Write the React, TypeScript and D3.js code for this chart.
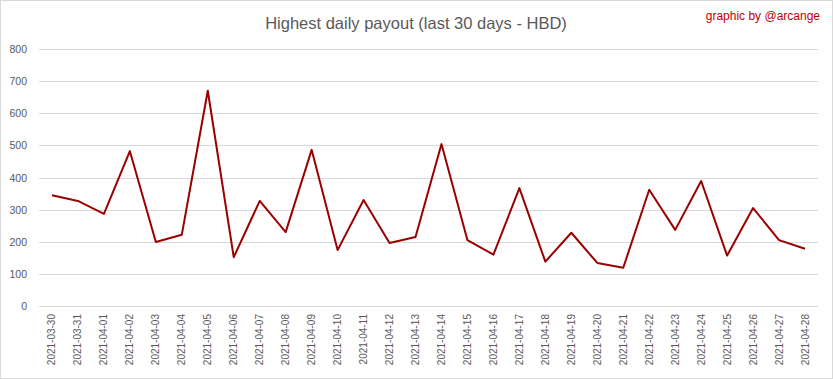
import React from "react";
import * as d3 from "d3";

const dates = [
  "2021-03-30","2021-03-31","2021-04-01","2021-04-02","2021-04-03","2021-04-04","2021-04-05","2021-04-06",
  "2021-04-07","2021-04-08","2021-04-09","2021-04-10","2021-04-11","2021-04-12","2021-04-13","2021-04-14",
  "2021-04-15","2021-04-16","2021-04-17","2021-04-18","2021-04-19","2021-04-20","2021-04-21","2021-04-22",
  "2021-04-23","2021-04-24","2021-04-25","2021-04-26","2021-04-27","2021-04-28",
];
const payouts = [
  345, 327, 287, 482, 199, 222, 670, 152, 327, 230, 486, 174, 330, 196, 215,
  504, 205, 160, 367, 138, 228, 134, 119, 362, 237, 389, 157, 305, 205, 178,
];
const yTicks = [0, 100, 200, 300, 400, 500, 600, 700, 800];
const title = "Highest daily payout (last 30 days - HBD)";
const credit = "graphic by @arcange";

const W = 833;
const H = 379;
const left = 39;
const right = 818;
const top = 49;
const bottom = 306;

export default function App() {
  const x = d3.scaleBand<string>().domain(dates).range([left, right]);
  const y = d3.scaleLinear().domain([0, 800]).range([bottom, top]);
  const line = d3
    .line<number>()
    .x((_, i) => (x(dates[i]) as number) + x.bandwidth() / 2)
    .y((d) => y(d));
  const font = "'Liberation Sans', Arial, sans-serif";
  return (
    <svg
      width={W}
      height={H}
      style={{ position: "absolute", left: 0, top: 0, display: "block" }}
      fontFamily={font}
    >
      <rect x={0.5} y={0.5} width={W - 1} height={H - 1} fill="#fff" stroke="#d9d9d9" />
      <text x={416} y={29} textAnchor="middle" fontSize={16.5} fill="#595959">
        {title}
      </text>
      <text x={820} y={20} textAnchor="end" fontSize={12} fill="#c00000">
        {credit}
      </text>
      {yTicks.map((t) => (
        <g key={t}>
          <line x1={left} x2={right} y1={Math.round(y(t)) + 0.5} y2={Math.round(y(t)) + 0.5} stroke="#d9d9d9" />
          <text x={27} y={y(t) + 4} textAnchor="end" fontSize={10.5} fill="#595959">
            {t}
          </text>
        </g>
      ))}
      {dates.map((d) => {
        const cx = (x(d) as number) + x.bandwidth() / 2;
        return (
          <text
            key={d}
            transform={`translate(${cx + 3.5},314) rotate(-90)`}
            textAnchor="end"
            fontSize={10}
            fill="#595959"
          >
            {d}
          </text>
        );
      })}
      <path d={line(payouts) || ""} fill="none" stroke="#990000" strokeWidth={2} strokeLinejoin="round" />
    </svg>
  );
}
